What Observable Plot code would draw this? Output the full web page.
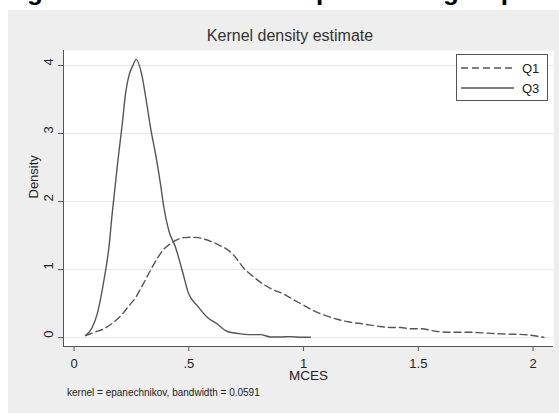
<!DOCTYPE html>
<html><head><meta charset="utf-8">
<script src="https://cdn.jsdelivr.net/npm/d3@7"></script>
<script src="https://cdn.jsdelivr.net/npm/@observablehq/plot@0.6"></script>
<style>
body{margin:0;background:#fff;width:559px;height:413px;overflow:hidden;position:relative;font-family:"Liberation Sans",Arial,sans-serif;}
#cut{position:absolute;left:4px;top:-22px;font:bold 26px/26px "Liberation Sans",Arial,sans-serif;color:#000;white-space:nowrap;}
#panel{position:absolute;left:8px;top:10px;width:551px;height:403px;background:#eeeeee;}
#title{position:absolute;left:8px;width:564px;top:28px;text-align:center;font-size:16px;line-height:16px;color:#333;}
#chart{position:absolute;left:8px;top:46px;}
#caption{position:absolute;left:67px;top:388px;font-size:10px;line-height:10px;color:#222;white-space:nowrap;}
#legend{position:absolute;left:456px;top:54px;width:92px;height:47px;box-sizing:border-box;border:1px solid #555;background:#fff;}
</style>
</head><body>
<div id="cut">Figure 1: MCES for the top and low group</div>
<div id="panel"></div>
<div id="title">Kernel density estimate</div>
<div id="chart"></div>
<div id="caption">kernel = epanechnikov, bandwidth = 0.0591</div>
<div id="legend"></div>
<script>
// ---- data ----
const seriesNames = ["Q1", "Q3"];
const q1X = [0.05,0.09,0.13,0.17,0.203,0.235,0.268,0.3,0.333,0.36,0.391,0.42,0.45,0.48,0.508,0.54,0.566,0.6,0.638,0.67,0.696,0.74,0.78,0.827,0.87,0.914,0.95,0.987,1.03,1.06,1.1,1.147,1.2,1.263,1.32,1.379,1.423,1.466,1.51,1.583,1.65,1.713,1.78,1.858,1.96,2.047];
const q1Y = [0.03,0.08,0.13,0.22,0.32,0.45,0.59,0.78,0.99,1.15,1.30,1.38,1.44,1.47,1.475,1.47,1.45,1.41,1.35,1.29,1.21,1.02,0.90,0.78,0.70,0.64,0.57,0.50,0.42,0.37,0.32,0.27,0.23,0.20,0.17,0.15,0.15,0.13,0.13,0.09,0.08,0.08,0.07,0.055,0.045,0.005];
const q3X = [0.05,0.079,0.101,0.13,0.152,0.166,0.191,0.21,0.224,0.239,0.255,0.271,0.294,0.319,0.333,0.355,0.377,0.391,0.413,0.442,0.471,0.5,0.537,0.58,0.624,0.668,0.718,0.769,0.813,0.856,0.9,0.943,0.99,1.03];
const q3Y = [0.03,0.15,0.35,0.84,1.33,1.82,2.60,3.14,3.58,3.85,3.99,4.09,3.88,3.39,3.09,2.70,2.25,1.92,1.57,1.33,0.99,0.64,0.47,0.30,0.20,0.09,0.06,0.045,0.045,0.01,0.01,0.015,0.005,0.005];
const xTicks = [0, 0.5, 1, 1.5, 2];
const xTickLabels = ["0", ".5", "1", "1.5", "2"];
const yTicks = [0, 1, 2, 3, 4];
const yTickLabels = ["0", "1", "2", "3", "4"];
const xDomain = [-0.046, 2.089];
const yDomain = [-0.13, 4.22];

const q1 = q1X.map((x, i) => ({x, y: q1Y[i]}));
const q3 = q3X.map((x, i) => ({x, y: q3Y[i]}));

const lineColor = "#555";
const plot = Plot.plot({
  width: 551, height: 339,
  marginLeft: 55, marginTop: 4, marginRight: 6, marginBottom: 39,
  style: {background: "transparent", fontFamily: "'Liberation Sans', Arial, sans-serif", fontSize: "13px", color: "#222"},
  x: {domain: xDomain},
  y: {domain: yDomain},
  marks: [
    Plot.frame({fill: "white", stroke: null}),
    Plot.gridY(yTicks, {stroke: "#e8e8e8", strokeOpacity: 1}),
    Plot.ruleX([xDomain[0]], {stroke: lineColor}),
    Plot.ruleY([yDomain[0]], {stroke: lineColor}),
    Plot.line(q1, {x: "x", y: "y", stroke: lineColor, strokeWidth: 1.4, strokeDasharray: "7,4", curve: "monotone-x"}),
    Plot.line(q3, {x: "x", y: "y", stroke: lineColor, strokeWidth: 1.4, curve: "monotone-x"}),
    Plot.axisY(yTicks, {tickSize: 5, label: null, stroke: lineColor, tickFormat: () => ""}),
    Plot.text(yTicks, {y: d => d, text: d => yTickLabels[yTicks.indexOf(d)], frameAnchor: "left", dx: -15, rotate: -90, fill: "#222", fontSize: 13}),
    Plot.axisX(xTicks, {tickSize: 5, tickPadding: 7.5, label: null, stroke: lineColor, fill: "#222",
      tickFormat: d => xTickLabels[xTicks.indexOf(d)]}),
    Plot.text(["MCES"], {frameAnchor: "bottom", dy: 33, fill: "#222", fontSize: 13.5}),
    Plot.text(["Density"], {frameAnchor: "left", dx: -30, rotate: -90, fill: "#222", fontSize: 13})
  ]
});
document.getElementById("chart").appendChild(plot);

// legend
const ns = "http://www.w3.org/2000/svg";
const lg = document.createElementNS(ns, "svg");
lg.setAttribute("width", 90); lg.setAttribute("height", 45);
seriesNames.forEach((name, i) => {
  const yy = 13 + i * 20;
  const l = document.createElementNS(ns, "line");
  l.setAttribute("x1", 4); l.setAttribute("x2", 57); l.setAttribute("y1", yy); l.setAttribute("y2", yy);
  l.setAttribute("stroke", lineColor); l.setAttribute("stroke-width", 1.4);
  if (i === 0) l.setAttribute("stroke-dasharray", "7,4");
  lg.appendChild(l);
  const t = document.createElementNS(ns, "text");
  t.setAttribute("x", 65); t.setAttribute("y", yy + 4.5);
  t.setAttribute("font-size", 13); t.setAttribute("fill", "#222");
  t.setAttribute("font-family", "'Liberation Sans', Arial, sans-serif");
  t.textContent = name;
  lg.appendChild(t);
});
document.getElementById("legend").appendChild(lg);
</script>
</body></html>
